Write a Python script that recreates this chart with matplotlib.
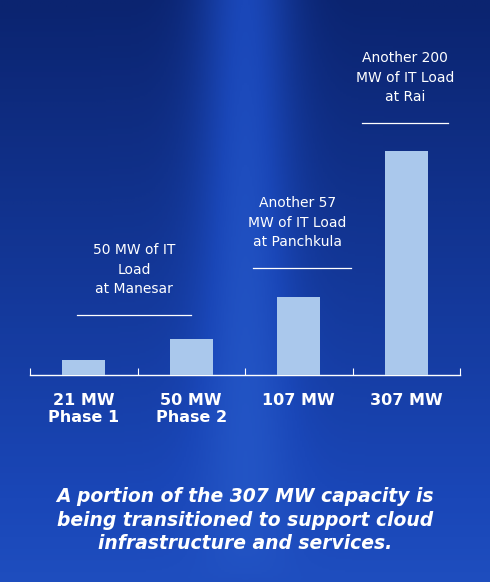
import matplotlib
matplotlib.use("Agg")
import matplotlib.pyplot as plt
import numpy as np
from matplotlib.colors import LinearSegmentedColormap

capacity = [21, 50, 107, 307]
labels = ["21 MW\nPhase 1", "50 MW\nPhase 2", "107 MW", "307 MW"]
notes = ["50 MW of IT\nLoad\nat Manesar", "Another 57\nMW of IT Load\nat Panchkula", "Another 200\nMW of IT Load\nat Rai"]
note_y = [82, 146, 345]
note_x0 = [-0.06, 1.57, 2.59]
note_x1 = [1.0, 2.49, 3.39]
note_cx = [0.47, 1.99, 2.99]
caption = "A portion of the 307 MW capacity is\nbeing transitioned to support cloud\ninfrastructure and services."

fig = plt.figure(figsize=(4.9, 5.82), dpi=100)
bg = fig.add_axes([0, 0, 1, 1])
yy = np.linspace(0, 1, 300)[:, None]
xx = np.linspace(0, 1, 300)[None, :]
band = np.exp(-((xx - 0.5) / 0.1) ** 2) * (1 - yy) ** 0.6
val = 0.3 + 0.35 * yy + 0.3 * band
cm = LinearSegmentedColormap.from_list("b", ["#0b2470", "#1a47b8", "#3570e0", "#8fb4f5"])
bg.imshow(val, cmap=cm, aspect="auto", extent=[0, 1, 0, 1], vmin=0.3, vmax=1.2)
bg.axis("off")

ax = fig.add_axes([30/490, 1-375/582, 430/490, 292/582])
ax.set_facecolor("none")
x = np.arange(len(capacity))
ax.bar(x, capacity, width=0.4, color="#aac8ec", zorder=3)
ax.set_xlim(-0.5, 3.5)
ax.set_ylim(0, 400)
for s in ["top", "right", "left"]:
    ax.spines[s].set_visible(False)
ax.spines["bottom"].set_color("white")
ax.spines["bottom"].set_linewidth(1)
ax.set_xticks([-0.5, 0.5, 1.5, 2.5, 3.5])
ax.set_xticklabels([])
ax.tick_params(axis="x", colors="white", length=5, direction="in")
ax.set_yticks([])
for i, lab in enumerate(labels):
    ax.text(i, -24, lab, ha="center", va="top", color="white", fontsize=11.5, fontweight="bold")
for i, n in enumerate(notes):
    ax.plot([note_x0[i], note_x1[i]], [note_y[i]] * 2, color="white", lw=0.9)
    ax.text(note_cx[i], note_y[i] + 26, n, ha="center", va="bottom", color="white", fontsize=10, linespacing=1.5)
fig.text(0.5, 1-520/582, caption, ha="center", va="center", color="white", fontsize=13.5,
         fontweight="bold", style="italic", linespacing=1.3)
fig.savefig("out.png", dpi=100)
